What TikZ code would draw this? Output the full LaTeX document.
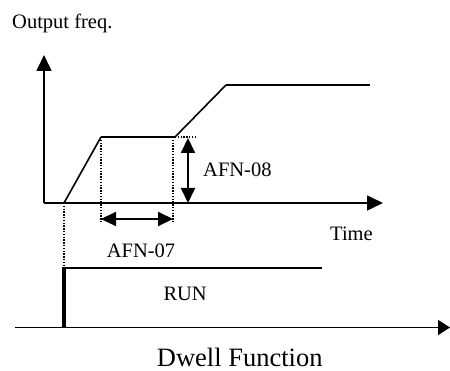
\documentclass[tikz,border=0pt]{standalone}
\usepackage{fontspec}
\setmainfont{Liberation Serif}
\usetikzlibrary{arrows.meta}
\begin{document}
\begin{tikzpicture}[x=1pt,y=-1pt,
  axis/.style={line width=1.6pt,-{Triangle[length=16pt,width=15pt]}},
  dbl/.style={line width=2pt,{Triangle[length=15pt,width=14pt]}-{Triangle[length=15pt,width=14pt]}},
  ramp/.style={line width=1.6pt},
  flat/.style={line width=2.4pt},
  dots/.style={line width=1.5pt,dash pattern=on 1.4pt off 1.4pt},
  lbl/.style={inner sep=0pt,anchor=base west,font=\fontsize{20.5}{24}\selectfont}]
\useasboundingbox (0,0) rectangle (450,371);
% coordinates
\coordinate (O) at (44,203);
\coordinate (Ytip) at (44,55);
\coordinate (Xtip) at (383,203);
\coordinate (s) at (64,203);
\coordinate (a) at (101,137);
\coordinate (b) at (175,137);
\coordinate (c) at (226,85);
\coordinate (d) at (370,85);
\coordinate (bd) at (195,137);
\coordinate (a1) at (101,223);
\coordinate (b1) at (173,223);
\coordinate (b0) at (173,137);
\coordinate (h1) at (101,219);
\coordinate (h2) at (173,219);
\coordinate (v1) at (188,138);
\coordinate (v2) at (188,203);
\coordinate (r0) at (64,268);
\coordinate (r1) at (322,268);
\coordinate (r2) at (64,328);
\coordinate (L) at (15,327.5);
\coordinate (R) at (450,327.5);
% axes
\draw[axis] (O) -- (Ytip);
\draw[axis] (O) -- (Xtip);
\draw[line width=1.6pt,-{Triangle[length=12pt,width=15pt]}] (L) -- (R);
% curve
\draw[ramp] (s) -- (a);
\draw[flat] (a) -- (b);
\draw[ramp] (b) -- (c);
\draw[flat] (c) -- (d);
% dotted guides
\draw[dots] (a) -- (a1);
\draw[dots] (b0) -- (b1);
\draw[dots] (b) -- (bd);
\draw[dots] (s) -- (r0);
% dimension arrows
\draw[dbl] (v1) -- (v2);
\draw[dbl] (h1) -- (h2);
% run signal
\draw[line width=3.2pt] (r2) -- (r0);
\draw[line width=2pt] ([xshift=-1.6pt]r0) -- (r1);
% labels
\node[lbl] (of) at (12,29) {Output freq.};
\node[lbl] (afn8) at (203,176.7) {AFN-08};
\node[lbl] (time) at (330,241) {Time};
\node[lbl] (afn7) at (106.7,257.7) {AFN-07};
\node[lbl] (run) at (163.3,300.7) {RUN};
\node[inner sep=0pt,anchor=base west,font=\fontsize{26.5}{30}\selectfont] (dw) at (156.7,366.5) {Dwell Function};
\end{tikzpicture}
\end{document}
